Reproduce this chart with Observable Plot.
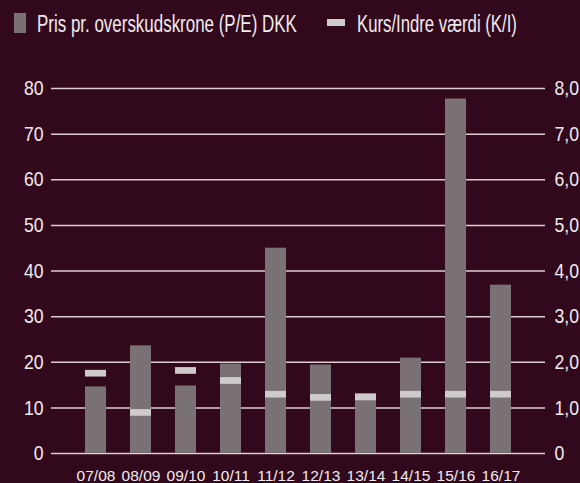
<!DOCTYPE html>
<html>
<head>
<meta charset="utf-8">
<script src="https://cdn.jsdelivr.net/npm/d3@7"></script>
<script src="https://cdn.jsdelivr.net/npm/@observablehq/plot@0.6"></script>
<style>
  html, body { margin: 0; padding: 0; background: #32091c; }
  body { width: 580px; height: 483px; overflow: hidden; position: relative;
         font-family: "Liberation Sans", Arial, sans-serif; }
  #legend { position: relative; height: 50px; color: #f1ebee; font-size: 23px; }
  .sw { position: absolute; }
  .lt { position: absolute; top: 11px; white-space: nowrap; display: inline-block; transform-origin: left center; }
  svg { display: block; }
</style>
</head>
<body>
<div id="legend">
  <div class="sw" style="left:14px;top:13px;width:12px;height:20px;background:#797173"></div>
  <span class="lt" id="l1" style="left:37px;" data-w="260">Pris pr. overskudskrone (P/E) DKK</span>
  <div class="sw" style="left:327px;top:19px;width:18px;height:7px;background:#cfcacc"></div>
  <span class="lt" id="l2" style="left:357px;" data-w="160">Kurs/Indre værdi (K/I)</span>
</div>
<div id="chart"></div>
<script>
const years = ["07/08","08/09","09/10","10/11","11/12","12/13","13/14","14/15","15/16","16/17"];
const pe = [14.6, 23.6, 14.8, 19.6, 45.0, 19.4, 13.1, 20.9, 77.7, 36.9];
const ki = [1.76, 0.90, 1.82, 1.60, 1.30, 1.23, 1.24, 1.30, 1.30, 1.30];
const leftTicks = [0, 10, 20, 30, 40, 50, 60, 70, 80];
const rightTicks = [0, 1, 2, 3, 4, 5, 6, 7, 8];

const data = years.map((y, i) => ({year: y, pe: pe[i], ki: ki[i]}));
const font = "'Liberation Sans', Arial, sans-serif";

const chart = Plot.plot({
  width: 580,
  height: 433,
  marginLeft: 51,
  marginRight: 35,
  marginTop: 38,
  marginBottom: 30,
  style: {background: "#32091c", color: "#f1ebee", fontFamily: font},
  x: {domain: years, paddingInner: 0.54, paddingOuter: 0.68, label: null},
  y: {domain: [0, 80], label: null},
  marks: [
    Plot.ruleY(leftTicks, {stroke: "#dccdd3", strokeWidth: 1.5}),
    Plot.barY(data, {x: "year", y: "pe", fill: "#797173"}),
    Plot.tickY(data, {x: "year", y: d => d.ki * 10, stroke: "#cfcacc", strokeWidth: 6.7}),
    Plot.axisY({ticks: leftTicks, anchor: "left", tickSize: 0, tickPadding: 8, fontSize: 21, label: null}),
    Plot.axisY({ticks: rightTicks.map(d => d * 10), anchor: "right", tickSize: 0, tickPadding: 9, fontSize: 21, label: null,
      tickFormat: d => d === 0 ? "0" : (d / 10).toFixed(1).replace(".", ",")}),
    Plot.axisX({tickSize: 0, tickPadding: 16, fontSize: 15.5, label: null})
  ]
});
document.getElementById("chart").appendChild(chart);

// condense y tick labels horizontally (reference uses a condensed face)
chart.querySelectorAll('g[aria-label="y-axis tick label"] text').forEach(t => {
  const w = t.getComputedTextLength();
  t.setAttribute("textLength", w * 0.84);
  t.setAttribute("lengthAdjust", "spacingAndGlyphs");
});
// condense legend texts to their widths in the reference
document.querySelectorAll(".lt").forEach(el => {
  const k = +el.dataset.w / el.offsetWidth;
  el.style.transform = `scaleX(${k})`;
});
</script>
</body>
</html>
